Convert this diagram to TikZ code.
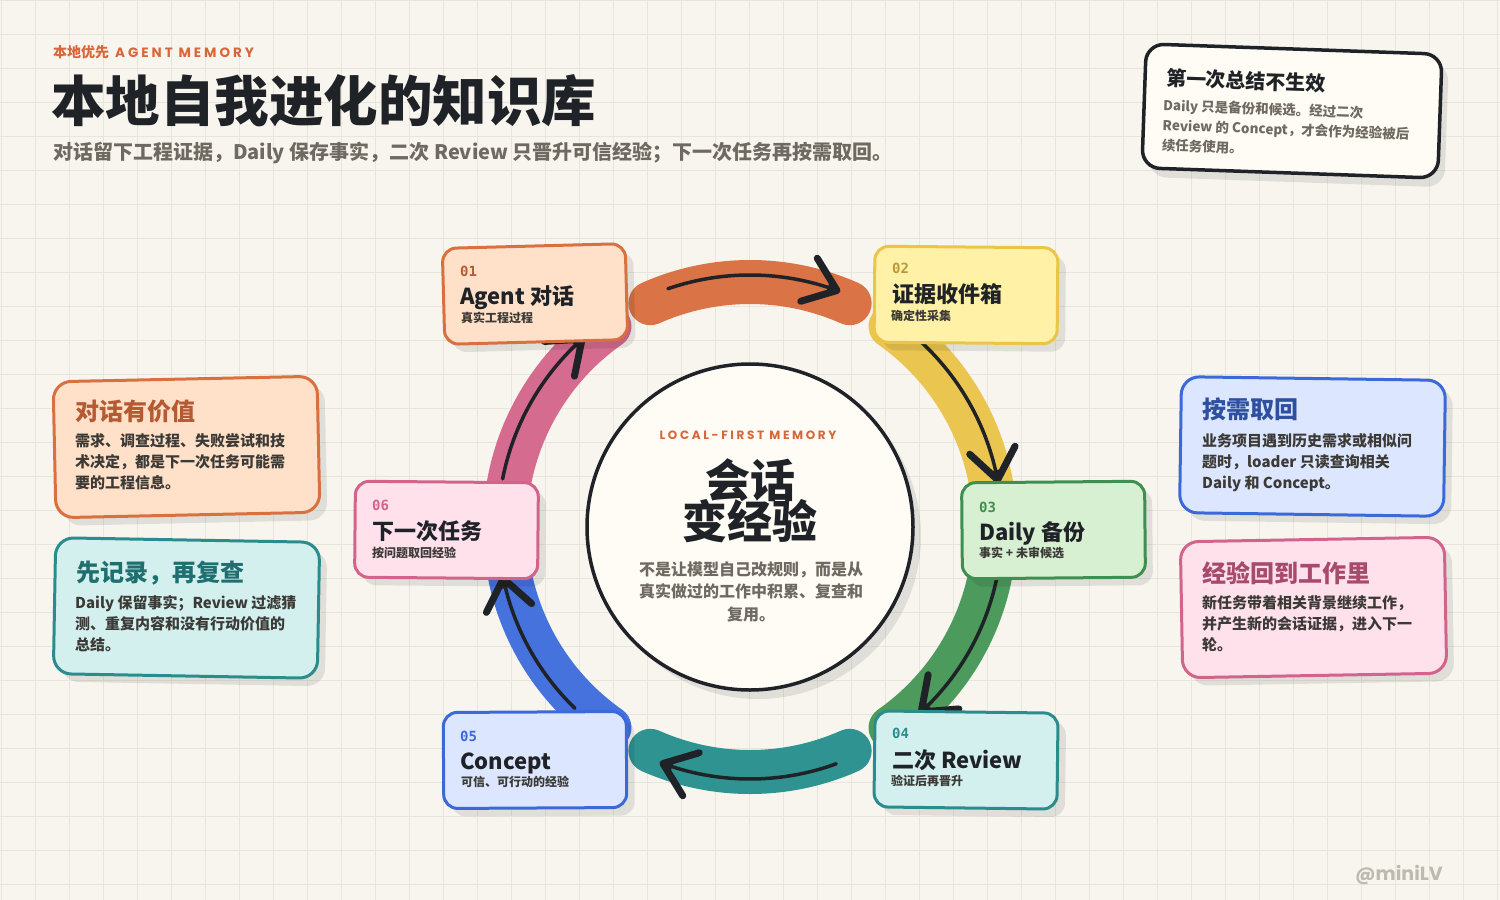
\documentclass[tikz,border=0pt]{standalone}
\usepackage{fontspec}
\setmainfont{Noto Sans CJK SC}
\newfontfamily\popf{Poppins}[LetterSpace=22]
\newfontfamily\popn{Poppins}
\newfontfamily\monof{DejaVu Sans Mono}
\usetikzlibrary{arrows.meta}
\definecolor{bg}{HTML}{F7F5EE}
\definecolor{gridc}{HTML}{E8E5DB}
\definecolor{ink}{HTML}{1F2226}
\definecolor{ink2}{HTML}{3C3A36}
\definecolor{muted}{HTML}{6E6A61}
\definecolor{accent}{HTML}{D9663A}
\definecolor{paper}{HTML}{FEFCF4}
\definecolor{wm}{HTML}{BDBAB0}
\definecolor{oF}{HTML}{FFE1C9}\definecolor{oB}{HTML}{D9703F}\definecolor{oT}{HTML}{B65A33}\definecolor{oR}{HTML}{DA7345}
\definecolor{yF}{HTML}{FFF1A6}\definecolor{yB}{HTML}{EBC548}\definecolor{yT}{HTML}{B8983A}\definecolor{yR}{HTML}{EAC550}
\definecolor{gF}{HTML}{D7F0D2}\definecolor{gB}{HTML}{3E8F52}\definecolor{gT}{HTML}{3E8F52}\definecolor{gR}{HTML}{4D9A5D}
\definecolor{tF}{HTML}{D3F0EE}\definecolor{tB}{HTML}{2A8C8C}\definecolor{tT}{HTML}{1F6F70}\definecolor{tR}{HTML}{2F9392}
\definecolor{bF}{HTML}{DCE7FF}\definecolor{bB}{HTML}{3B69D9}\definecolor{bT}{HTML}{2F50A0}\definecolor{bR}{HTML}{4672DD}
\definecolor{pF}{HTML}{FFE1EC}\definecolor{pB}{HTML}{D2648C}\definecolor{pT}{HTML}{A84A6C}\definecolor{pR}{HTML}{D56B8F}
\tikzset{
  band/.style={line width=44pt, line cap=round},
  blk/.style={draw=ink, line width=3.5pt, line cap=round},
  blktip/.style={draw=ink, line width=7pt, -{Straight Barb[length=30pt,width=46pt,round]}},
  shadowbox/.style={fill=black, fill opacity=0.09, draw=none, rounded corners=14pt, inner sep=0pt},
  stepbox/.style={line width=3pt, rounded corners=14pt, inner sep=0pt, minimum width=183pt, minimum height=96pt},
  sidebox/.style={line width=3pt, rounded corners=18pt, inner sep=0pt, minimum width=264pt, minimum height=136pt},
  stepnum/.style={font=\monof\bfseries\fontsize{14}{14}\selectfont, anchor=base west, inner sep=0pt},
  steptitle/.style={font=\bfseries\fontsize{22}{22}\selectfont, text=ink, anchor=base west, inner sep=0pt},
  stepsub/.style={font=\bfseries\fontsize{12}{12}\selectfont, text=ink2, anchor=base west, inner sep=0pt},
  sidetitle/.style={font=\bfseries\fontsize{24}{24}\selectfont, anchor=base west, inner sep=0pt},
  sidebody/.style={font=\bfseries\fontsize{15}{21}\selectfont, text=ink2, anchor=base west, align=left, inner sep=0pt},
}
\begin{document}
\begin{tikzpicture}[x=1pt,y=-1pt]
\useasboundingbox (0,0) rectangle (1500,900);
\fill[bg] (0,0) rectangle (1500,900);
\foreach \i in {1,35,...,1500} \draw[gridc, line width=0.8pt] (\i,0) -- (\i,900);
\foreach \j in {0,34,...,900} \draw[gridc, line width=0.8pt] (0,\j) -- (1500,\j);

% header
\node[anchor=base west, inner sep=0pt, text=accent, font=\bfseries\fontsize{14}{14}\selectfont] (kicker) at (53,57) {本地优先\hspace{6pt}{\popf\bfseries\fontsize{13.5}{13.5}\selectfont AGENT MEMORY}};
\node[anchor=base west, inner sep=0pt, text=ink, font=\bfseries\fontsize{54.5}{54.5}\selectfont] (title) at (51,121.5) {本地自我进化的知识库};
\node[anchor=base west, inner sep=0pt, text=muted, font=\bfseries\fontsize{20}{20}\selectfont] (subtitle) at (53,159.5) {对话留下工程证据，Daily 保存事实，二次 Review 只晋升可信经验；下一次任务再按需取回。};

% ring
\coordinate (ring) at (750,527);
\begin{scope}[shift={(ring)}, y=1pt]
  \draw[band, draw=oR] (114:245) arc[start angle=114, end angle=66, radius=245];
  \draw[band, draw=yR] (55:245) arc[start angle=55, end angle=5, radius=245];
  \draw[band, draw=gR] (-5:245) arc[start angle=-5, end angle=-55, radius=245];
  \draw[band, draw=tR] (-66:245) arc[start angle=-66, end angle=-114, radius=245];
  \draw[band, draw=bR] (235:245) arc[start angle=235, end angle=185, radius=245];
  \draw[band, draw=pR] (175:245) arc[start angle=175, end angle=125, radius=245];
  \draw[blk] (109:252) arc[start angle=109, end angle=71, radius=252];
  \draw[blktip] (72:252) arc[start angle=72, end angle=69, radius=252];
  \draw[blk] (47:252) arc[start angle=47, end angle=12, radius=252];
  \draw[blktip] (13:252) arc[start angle=13, end angle=10, radius=252];
  \draw[blk] (-12:252) arc[start angle=-12, end angle=-46, radius=252];
  \draw[blktip] (-45:252) arc[start angle=-45, end angle=-48, radius=252];
  \draw[blk] (-70:252) arc[start angle=-70, end angle=-109, radius=252];
  \draw[blktip] (-108:252) arc[start angle=-108, end angle=-111, radius=252];
  \draw[blk] (226:252) arc[start angle=226, end angle=193, radius=252];
  \draw[blktip] (194:252) arc[start angle=194, end angle=191, radius=252];
  \draw[blk] (169:252) arc[start angle=169, end angle=133, radius=252];
  \draw[blktip] (134:252) arc[start angle=134, end angle=131, radius=252];
\end{scope}

% hub
\node[circle, minimum size=326pt, inner sep=0pt, fill=black, fill opacity=0.09] (hubsh) at (758,536) {};
\node[circle, minimum size=326pt, inner sep=0pt, fill=paper, draw=ink, line width=3.5pt] (hub) at (ring) {};
\node[anchor=base, inner sep=0pt, text=accent, font=\popf\bfseries\fontsize{12}{12}\selectfont] (hubk) at (748,439.5) {LOCAL-FIRST MEMORY};
\node[anchor=base, inner sep=0pt, text=ink, font=\bfseries\fontsize{45}{45}\selectfont] (hubt1) at (750,497.5) {会话};
\node[anchor=base, inner sep=0pt, text=ink, font=\bfseries\fontsize{45}{45}\selectfont] (hubt2) at (750,538.5) {变经验};
\node[anchor=base, inner sep=0pt, align=center, text=muted, font=\bfseries\fontsize{16}{22.5}\selectfont] (hubb) at (751,620) {不是让模型自己改规则，而是从\\真实做过的工作中积累、复查和\\复用。};

% step boxes
\node[shadowbox, stepbox, draw=none, rotate=1.5] (s1sh) at (543,302) {};
\node[stepbox, fill=oF, draw=oB, rotate=1.5] (s1) at (535,294) {};
\node[shadowbox, stepbox, draw=none, rotate=-0.5] (s2sh) at (974,303) {};
\node[stepbox, fill=yF, draw=yB, rotate=-0.5] (s2) at (966,295) {};
\node[shadowbox, stepbox, draw=none, rotate=0.5] (s3sh) at (1061,538) {};
\node[stepbox, fill=gF, draw=gB, rotate=0.5] (s3) at (1053.5,530) {};
\node[shadowbox, stepbox, draw=none, rotate=-0.7] (s4sh) at (974,768) {};
\node[stepbox, fill=tF, draw=tB, rotate=-0.7] (s4) at (966,760) {};
\node[shadowbox, stepbox, draw=none, rotate=0.3] (s5sh) at (543,768) {};
\node[stepbox, fill=bF, draw=bB, rotate=0.3] (s5) at (535,760) {};
\node[shadowbox, stepbox, draw=none, rotate=-0.5] (s6sh) at (454,538) {};
\node[stepbox, fill=pF, draw=pB, rotate=-0.5] (s6) at (446.5,530) {};

\node[stepnum, text=oT] (s1n) at (460,276) {01};
\node[steptitle] (s1t) at (460,304) {Agent 对话};
\node[stepsub] (s1s) at (461,322.5) {真实工程过程};
\node[stepnum, text=yT] (s2n) at (892,273) {02};
\node[steptitle] (s2t) at (892,302) {证据收件箱};
\node[stepsub] (s2s) at (891,320.5) {确定性采集};
\node[stepnum, text=gT] (s3n) at (979,512) {03};
\node[steptitle] (s3t) at (979,540) {Daily 备份};
\node[stepsub] (s3s) at (979,557.5) {事实 + 未审候选};
\node[stepnum, text=tB] (s4n) at (892,738) {04};
\node[steptitle] (s4t) at (892,768) {二次 Review};
\node[stepsub] (s4s) at (891,785.5) {验证后再晋升};
\node[stepnum, text=bB] (s5n) at (460,741) {05};
\node[steptitle] (s5t) at (460,769) {Concept};
\node[stepsub] (s5s) at (461,786.5) {可信、可行动的经验};
\node[stepnum, text=pB] (s6n) at (372,510) {06};
\node[steptitle] (s6t) at (372,539) {下一次任务};
\node[stepsub] (s6s) at (372,557.5) {按问题取回经验};

% side boxes
\node[shadowbox, sidebox, rounded corners=18pt, rotate=1.2] (ash) at (194,455) {};
\node[sidebox, fill=oF, draw=oB, rotate=1.2] (abox) at (186.5,447) {};
\node[sidetitle, text=oT] (at) at (75,420) {对话有价值};
\node[sidebody] (ab) at (75,488.5) {需求、调查过程、失败尝试和技\\术决定，都是下一次任务可能需\\要的工程信息。};

\node[shadowbox, sidebox, rounded corners=18pt, rotate=-1] (bsh) at (194,616) {};
\node[sidebox, fill=tF, draw=tB, rotate=-1] (bbox) at (186.5,608) {};
\node[sidetitle, text=tT] (bt) at (76,581) {先记录，再复查};
\node[sidebody] (bb) at (75,650) {Daily 保留事实；Review 过滤猜\\测、重复内容和没有行动价值的\\总结。};

\node[shadowbox, sidebox, rounded corners=18pt, rotate=-0.8] (csh) at (1320,454.5) {};
\node[sidebox, fill=bF, draw=bB, rotate=-0.8] (cbox) at (1312.5,446.5) {};
\node[sidetitle, text=bT] (ct) at (1202,418) {按需取回};
\node[sidebody] (cb) at (1202,488.5) {业务项目遇到历史需求或相似问\\题时，loader 只读查询相关\\Daily 和 Concept。};

\node[shadowbox, sidebox, rounded corners=18pt, rotate=1] (dsh) at (1321,615.5) {};
\node[sidebox, fill=pF, draw=pB, rotate=1] (dbox) at (1313.5,607.5) {};
\node[sidetitle, text=pT] (dt) at (1202,582) {经验回到工作里};
\node[sidebody] (db) at (1202,650) {新任务带着相关背景继续工作，\\并产生新的会话证据，进入下一\\轮。};

% note
\begin{scope}[shift={(1292,111)}, rotate=-2, transform shape]
  \node[shadowbox, rounded corners=18pt, minimum width=296pt, minimum height=124pt] (notesh) at (7,9) {};
  \node[fill=paper, draw=ink, line width=3.5pt, rounded corners=18pt, minimum width=296pt, minimum height=124pt, inner sep=0pt] (note) at (0,0) {};
  \node[anchor=base west, inner sep=0pt, text=ink, font=\bfseries\fontsize{20}{20}\selectfont] (notet) at (-127,-21) {第一次总结不生效};
  \node[anchor=base west, align=left, inner sep=0pt, text=muted, font=\bfseries\fontsize{13.5}{20}\selectfont] (noteb) at (-129,44) {Daily 只是备份和候选。经过二次\\Review 的 Concept，才会作为经验被后\\续任务使用。};
\end{scope}

\node[anchor=base east, inner sep=0pt, text=wm, font=\popn\bfseries\fontsize{19}{19}\selectfont] (wmark) at (1443,880) {@miniLV};
\end{tikzpicture}
\end{document}
